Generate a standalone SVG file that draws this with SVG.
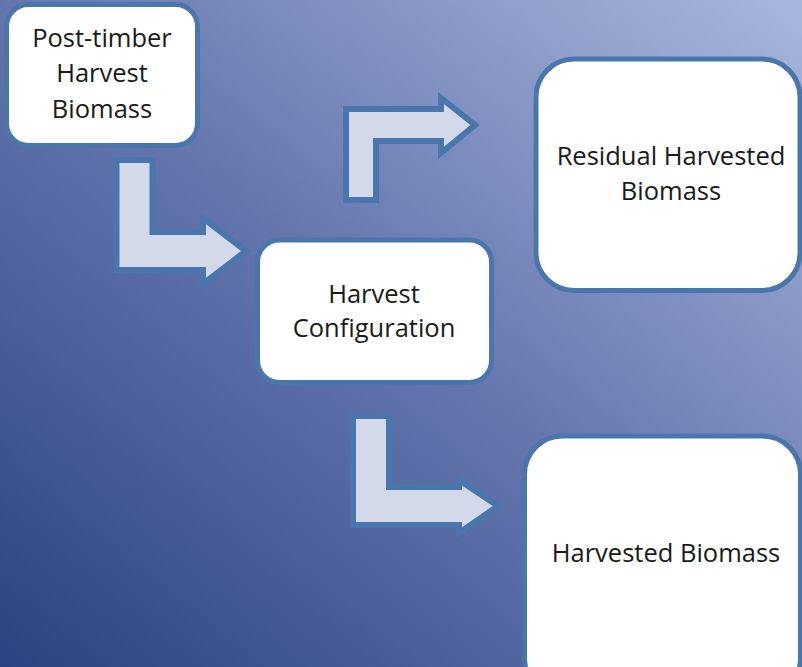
<svg xmlns="http://www.w3.org/2000/svg" width="802" height="667" viewBox="0 0 802 667">
<defs>
<linearGradient id="bg" x1="0" y1="1" x2="1" y2="0">
<stop offset="0" stop-color="#2b4382"/>
<stop offset="0.5" stop-color="#6576ad"/>
<stop offset="1" stop-color="#a9b6dc"/>
</linearGradient>
<style>
.box{fill:#ffffff;stroke:#4a76ae;stroke-width:5}
.arr{fill:#d3d9e8;stroke:#4a76ae;stroke-width:6;stroke-linejoin:miter}
.t{font-family:"Open Sans","Lato",sans-serif;font-size:25.5px;fill:#1a1a1a;text-anchor:middle}
</style>
</defs>
<rect x="0" y="0" width="802" height="667" fill="url(#bg)"/>
<g id="connectors">
<path class="arr" d="M116.5 160 L152.5 160 L152.5 232 L203 232 L203 218 L246 251 L203 284 L203 270 L116.5 270 Z"/>
<path class="arr" d="M346 200 L346 109 L441 109 L441 98 L475 125 L441 153 L441 141 L376 141 L376 200 Z"/>
<path class="arr" d="M353 416 L389 416 L389 487 L459 487 L459 480 L498 506 L459 533 L459 525 L353 525 Z"/>
</g>
<g id="post-timber">
<rect class="box" x="6.5" y="4.5" width="191" height="141" rx="22"/>
<text class="t" x="102" y="47">Post-timber</text>
<text class="t" x="102" y="82">Harvest</text>
<text class="t" x="102" y="118">Biomass</text>
</g>
<g id="harvest-configuration">
<rect class="box" x="257.5" y="240" width="234" height="142.5" rx="22"/>
<text class="t" x="374" y="303">Harvest</text>
<text class="t" x="374" y="337">Configuration</text>
</g>
<g id="residual">
<rect class="box" x="536" y="59" width="264" height="231.5" rx="38"/>
<text class="t" x="671" y="165">Residual Harvested</text>
<text class="t" x="671" y="200">Biomass</text>
</g>
<g id="harvested">
<rect class="box" x="524.5" y="436" width="276" height="260" rx="38"/>
<text class="t" x="666" y="562">Harvested Biomass</text>
</g>
</svg>
